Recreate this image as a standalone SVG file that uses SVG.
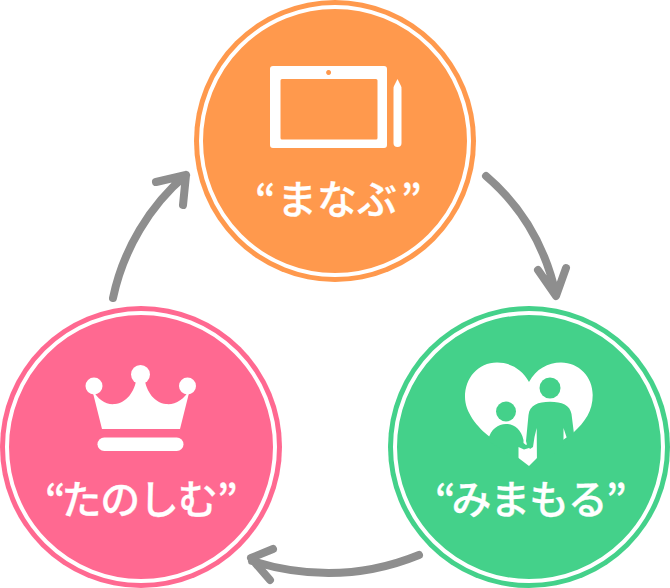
<svg xmlns="http://www.w3.org/2000/svg" width="670" height="588" viewBox="0 0 670 588">
<style>
.ring{fill:none;stroke:#fff;stroke-width:4}
.w{fill:#fff}
.lbl{font-family:"Noto Sans CJK JP","Noto Sans",sans-serif;font-size:40px;font-weight:500;fill:#fff;stroke:#fff;stroke-width:.3}
.arr{fill:none;stroke:#8e8e8e;stroke-width:8;stroke-linecap:round;stroke-linejoin:round}
</style>
<rect width="670" height="588" fill="#fff"/>
<g id="connectors">
<path class="arr" d="M486 176C520 205 545 245 556 295M538 270L556 296L566 268"/>
<path class="arr" d="M419 555C365 577 310 579 252 561M273 549L251 558L270 580"/>
<path class="arr" d="M113 298C123 250 150 205 186 175M156 182L186 175L183 205"/>
</g>
<g id="manabu">
<circle cx="335" cy="141" r="141" fill="#ff994d"/>
<circle class="ring" cx="335" cy="141" r="134"/>
<path class="w" fill-rule="evenodd" d="M273 66H384a3 3 0 0 1 3 3V145a3 3 0 0 1-3 3H273a3 3 0 0 1-3-3V69a3 3 0 0 1 3-3ZM282 79a1.500 1.500 0 0 0-1.500 1.500V138a1.500 1.500 0 0 0 1.500 1.500H376a1.500 1.500 0 0 0 1.500-1.500V80.500a1.500 1.500 0 0 0-1.500-1.500ZM328.600 70a2.500 2.500 0 1 0 .01 0Z"/>
<path class="w" d="M397.500 79L401 86C401.500 87 401.500 88 401.500 89V143a4 4 0 0 1-8 0V89C393.500 88 393.500 87 394 86Z"/>
<text class="lbl" x="255 277 317 357 401" y="213.500">“まなぶ”</text>
</g>
<g id="mimamoru">
<circle cx="529" cy="447" r="141" fill="#44d18a"/>
<circle class="ring" cx="529" cy="447" r="134"/>
<path class="w" d="M529 382C522 369 510 362.500 497 362.500C478 362.500 465 378 465 397C465 412 477 427 490 437L518.500 458L529 466L537 458L573 433C585 422 592.700 411 592.700 395C592.700 377 579 362.500 561 362.500C548 362.500 536 369 529 382Z"/>
<g fill="#44d18a">
<circle cx="506" cy="411.500" r="10"/>
<circle cx="550" cy="388" r="10.500"/>
<path d="M488 440C491 429 498 424 506 424C514 424 521 429 523.500 440L523.500 443L526 445L531 442L529 448L524 449.500L518.500 447V460L490 442Z"/>
<path d="M526 441L528.500 415C529.500 405 538 401.700 550 401.700C562 401.700 570 405 571.500 414L574 434L567 438.500L563.500 428L563.500 445L537 470L536.700 428L534.500 437L533 447L530 449L527 445Z"/>
</g>
<text class="lbl" x="435 451.400 490.200 529 567.800 606" y="513.500">“みまもる”</text>
</g>
<g id="tanoshimu">
<circle cx="141" cy="447" r="141" fill="#ff6991"/>
<circle class="ring" cx="141" cy="447" r="134"/>
<circle class="w" cx="94" cy="386" r="8.500"/><circle class="w" cx="140.500" cy="374.500" r="9.500"/><circle class="w" cx="187.500" cy="386" r="8.500"/>
<path class="w" d="M92 389L102 429H180L190 389C184 400 175 405 166 404C155 403 146 392 144.500 378H136.500C135 392 126 403 115 404C106 405 98 400 92 389Z"/>
<rect class="w" x="97.500" y="437.500" width="86" height="13.500" rx="6.750"/>
<text class="lbl" x="45 61.400 100.200 139 177.800 217" y="513.500">“たのしむ”</text>
</g>
</svg>
